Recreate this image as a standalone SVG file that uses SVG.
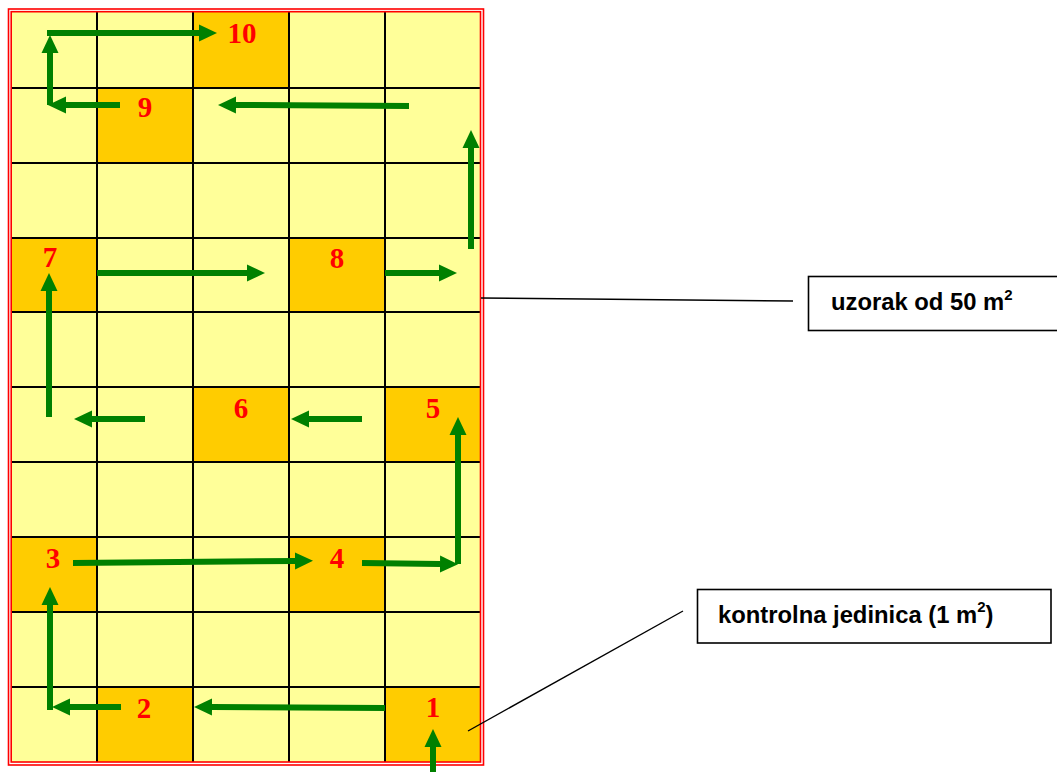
<svg xmlns="http://www.w3.org/2000/svg" width="1057" height="772" viewBox="0 0 1057 772">
<style>
.y{fill:#FFFF99}
.o{fill:#FFCC00}
.g{stroke:#000;stroke-width:2;fill:none}
.num{font-family:"Liberation Serif","Times New Roman",serif;font-weight:bold;font-size:29px;fill:#FF0000;text-anchor:middle}
.lbl{font-family:"Liberation Sans",Arial,sans-serif;font-weight:bold;font-size:23.8px;fill:#000}
.sup{font-family:"Liberation Sans",Arial,sans-serif;font-weight:bold;font-size:15px;fill:#000}
.ar{stroke:#008000;stroke-width:6;fill:none;marker-end:url(#ah)}
.lead{stroke:#000;stroke-width:1.4;fill:none}
.box{fill:#fff;stroke:#000;stroke-width:1.6}
</style>
<defs>
<marker id="ah" markerWidth="18" markerHeight="18" refX="0" refY="9" orient="auto" markerUnits="userSpaceOnUse" viewBox="0 0 18 18">
<path d="M0,0.5 L18,9 L0,17.5 z" fill="#008000"/>
</marker>
</defs>
<rect width="1057" height="772" fill="#fff"/>
<g id="grid">
<rect class="y" x="12" y="12" width="468" height="750"/>
<rect class="o" x="193" y="12" width="96" height="76"/>
<rect class="o" x="97" y="88" width="96" height="75"/>
<rect class="o" x="12" y="238" width="85" height="74"/>
<rect class="o" x="289" y="238" width="96" height="74"/>
<rect class="o" x="193" y="387" width="96" height="75"/>
<rect class="o" x="385" y="387" width="95" height="75"/>
<rect class="o" x="12" y="537" width="85" height="75"/>
<rect class="o" x="289" y="537" width="96" height="75"/>
<rect class="o" x="97" y="687" width="96" height="75"/>
<rect class="o" x="385" y="687" width="95" height="75"/>
<path class="g" d="M97,12V762M193,12V762M289,12V762M385,12V762M12,88H480M12,163H480M12,238H480M12,312H480M12,387H480M12,462H480M12,537H480M12,612H480M12,687H480"/>
<rect x="8.5" y="9" width="475" height="756" fill="none" stroke="#FF0000" stroke-width="1.6"/>
<rect x="11.2" y="11.7" width="469.3" height="750.3" fill="none" stroke="#FF0000" stroke-width="1.6"/>
</g>
<g id="n10"><text class="num" x="242" y="43">10</text></g>
<g id="n9"><text class="num" x="145" y="117">9</text></g>
<g id="n7"><text class="num" x="50" y="267">7</text></g>
<g id="n8"><text class="num" x="337" y="268">8</text></g>
<g id="n6"><text class="num" x="241" y="418">6</text></g>
<g id="n5"><text class="num" x="433" y="418">5</text></g>
<g id="n3"><text class="num" x="53" y="568">3</text></g>
<g id="n4"><text class="num" x="337" y="568">4</text></g>
<g id="n2"><text class="num" x="144" y="718">2</text></g>
<g id="n1"><text class="num" x="433" y="717">1</text></g>
<g id="uzorak">
<rect class="box" x="808.5" y="276.5" width="260" height="54"/>
<text class="lbl" x="831" y="310">uzorak od 50 m<tspan class="sup" dy="-10">2</tspan></text>
</g>
<g id="kontrolna">
<rect class="box" x="697.5" y="589.5" width="353.5" height="53.5"/>
<text class="lbl" x="718" y="623">kontrolna jedinica (1 m<tspan class="sup" dy="-11">2</tspan><tspan dy="11">)</tspan></text>
</g>
<g id="connectors">
<path class="lead" d="M481,298 L793,301"/>
<path class="lead" d="M468,731 L683,611"/>
<path class="ar" d="M433,772 L433,747"/>
<path class="ar" d="M385,708 L212,707"/>
<path class="ar" d="M121,707 L70,707"/>
<path class="ar" d="M50,710 L50,605"/>
<path class="ar" d="M73,563 L295,561"/>
<path class="ar" d="M362,563 L440,564"/>
<path class="ar" d="M458,564 L458,435"/>
<path class="ar" d="M362,419 L309,419"/>
<path class="ar" d="M145,419 L92,419"/>
<path class="ar" d="M49,417 L49,291"/>
<path class="ar" d="M97,273 L247,273"/>
<path class="ar" d="M385,273 L439,273"/>
<path class="ar" d="M471,249 L471,148"/>
<path class="ar" d="M409,106 L236,105"/>
<path class="ar" d="M120,105 L66,105"/>
<path class="ar" d="M50,105 L50,53"/>
<path class="ar" d="M47,33 L199,33"/>
</g>
</svg>
